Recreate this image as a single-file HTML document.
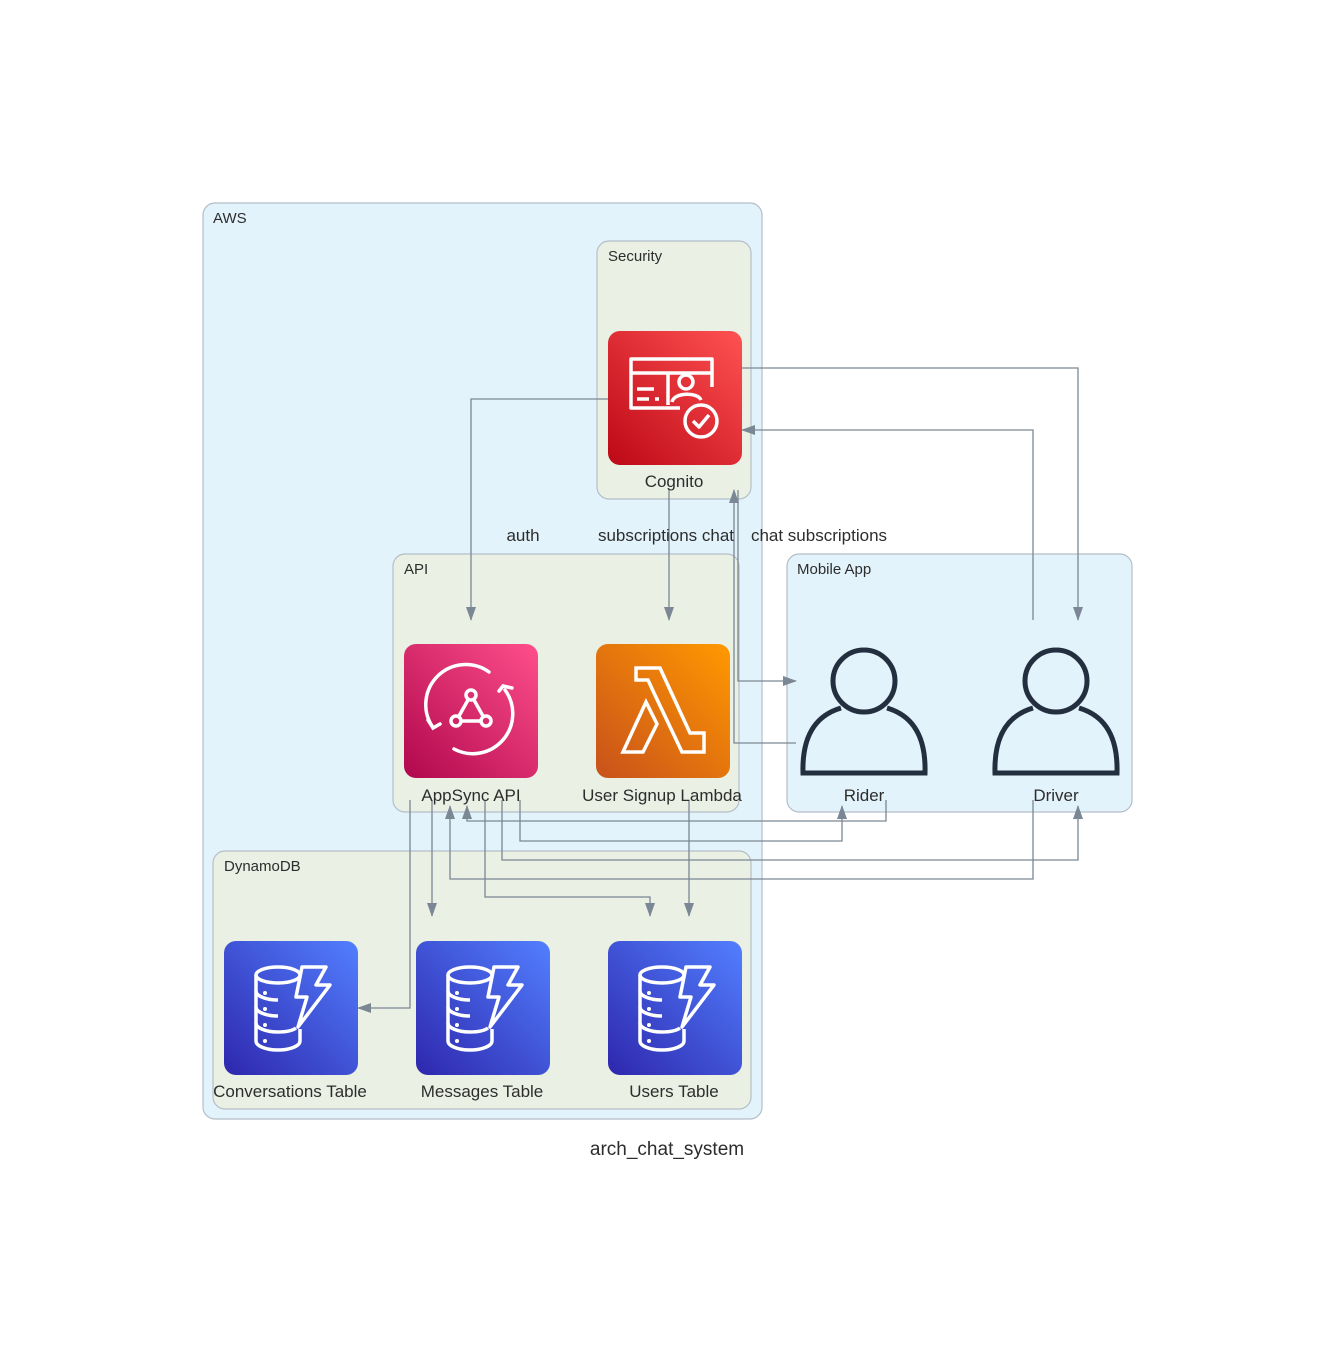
<!DOCTYPE html>
<html><head><meta charset="utf-8"><style>
html,body{margin:0;padding:0;background:#fff;}
svg{display:block;}
text{font-family:"Liberation Sans",sans-serif;fill:#2d2d2d;}
</style></head><body>
<svg width="1336" height="1355" viewBox="0 0 1336 1355" xmlns="http://www.w3.org/2000/svg">
<defs>
<linearGradient id="gr" x1="0" y1="1" x2="1" y2="0"><stop offset="0" stop-color="#bd0816"/><stop offset="1" stop-color="#ff5252"/></linearGradient>
<linearGradient id="gp" x1="0" y1="1" x2="1" y2="0"><stop offset="0" stop-color="#b0084d"/><stop offset="1" stop-color="#ff4f8b"/></linearGradient>
<linearGradient id="go" x1="0" y1="1" x2="1" y2="0"><stop offset="0" stop-color="#c8511b"/><stop offset="1" stop-color="#ff9900"/></linearGradient>
<linearGradient id="gb" x1="0" y1="1" x2="1" y2="0"><stop offset="0" stop-color="#2e27ad"/><stop offset="1" stop-color="#527fff"/></linearGradient>
<marker id="ar" markerWidth="14" markerHeight="12" refX="13" refY="6" orient="auto" markerUnits="userSpaceOnUse"><path d="M0,1 L14,6 L0,11 z" fill="#7b8794"/></marker>
<g id="ddb">
<rect width="134" height="134" rx="12" fill="url(#gb)"/>
<g fill="none" stroke="#fff" stroke-width="3.5" stroke-linejoin="round">
<ellipse cx="54" cy="34" rx="22" ry="8"/>
<path d="M32 34v66c0 5 10 9 22 9s22-4 22-9V88"/>
<path d="M32 50c0 5 10 9 22 9"/><path d="M32 66c0 5 10 9 22 9"/><path d="M32 82c0 5 10 9 22 9 8 0 14-1 18-4"/>
<path d="M78 26h24l-10 18h14L74 86l9-30H72z"/>
</g>
<g fill="#fff"><circle cx="41" cy="52" r="2"/><circle cx="41" cy="68" r="2"/><circle cx="41" cy="84" r="2"/><circle cx="41" cy="100" r="2"/></g>
</g>
<g id="person" fill="none" stroke="#232f3e" stroke-width="5">
<circle cx="0" cy="31" r="31"/>
<path d="M-23 58 C-50 66 -62 88 -61 123 H61 C62 88 50 66 23 58"/>
</g>
</defs>

<rect x="203" y="203" width="559" height="916" rx="12" fill="#e3f3fb" stroke="#b4bec8" stroke-width="1.2"/>
<text x="213" y="223" font-size="15">AWS</text>
<rect x="597" y="241" width="154" height="258" rx="12" fill="#eaf1e4" stroke="#b4bec8" stroke-width="1.2"/>
<text x="608" y="261" font-size="15">Security</text>
<rect x="393" y="554" width="346" height="258" rx="12" fill="#eaf1e4" stroke="#b4bec8" stroke-width="1.2"/>
<text x="404" y="574" font-size="15">API</text>
<rect x="213" y="851" width="538" height="258" rx="12" fill="#eaf1e4" stroke="#b4bec8" stroke-width="1.2"/>
<text x="224" y="871" font-size="15">DynamoDB</text>
<rect x="787" y="554" width="345" height="258" rx="12" fill="#e3f3fb" stroke="#b4bec8" stroke-width="1.2"/>
<text x="797" y="574" font-size="15">Mobile App</text>

<g fill="none" stroke="#7b8794" stroke-width="1.3" marker-end="url(#ar)">
<path d="M608 399 H471 V620"/>
<path d="M669 490 V620"/>
<path d="M742 368 H1078 V620"/>
<path d="M1033 620 V430 H742"/>
<path d="M738 490 V681 H796"/>
<path d="M796 743 H734 V490"/>
<path d="M410 800 V1008 H358"/>
<path d="M432 800 V916"/>
<path d="M485 800 V897 H650 V916"/>
<path d="M689 800 V916"/>
<path d="M886 800 V821 H467 V806"/>
<path d="M520 800 V841 H842 V806"/>
<path d="M502 800 V860 H1078 V806"/>
<path d="M1033 800 V879 H450 V806"/>
</g>

<rect x="608" y="331" width="134" height="134" rx="12" fill="url(#gr)"/>
<g fill="none" stroke="#fff" stroke-width="3.5" stroke-linejoin="round">
<path d="M680 408 H631 V359 H712 V387"/>
<path d="M631 373 H712"/>
<path d="M637 389 H654 M637 399 H649 M655 399 H659"/>
<circle cx="686" cy="382" r="7"/>
<path d="M672 402 C674 392 698 392 701 400"/>
<path d="M668 373 V405"/>
<circle cx="701" cy="421" r="16"/>
<path d="M693 421 L699 427 L709 415"/>
</g>
<text x="674" y="487" font-size="17" text-anchor="middle">Cognito</text>

<rect x="404" y="644" width="134" height="134" rx="12" fill="url(#gp)"/>
<g fill="none" stroke="#fff" stroke-width="3.5" stroke-linecap="round">
<path d="M489 672 A40 40 0 0 0 432 726"/>
<path d="M428 720 L433 728 L440 724"/>
<path d="M454 749 A40 40 0 0 0 505 690"/>
<path d="M499 691 L503 686 L512 688"/>
<circle cx="471" cy="695" r="5"/><circle cx="456" cy="721" r="5"/><circle cx="486" cy="721" r="5"/>
<path d="M468 700 L459 716 M474 700 L483 716 M461 721 H481"/>
</g>
<text x="471" y="801" font-size="17" text-anchor="middle">AppSync API</text>

<rect x="596" y="644" width="134" height="134" rx="12" fill="url(#go)"/>
<g fill="none" stroke="#fff" stroke-width="3.5" stroke-linejoin="miter">
<path d="M636 668 H660 L690 733 H704 V752 H682 L654 693 L648 680 H636 Z"/>
<path d="M646 702 L657 724 L643 752 H623 Z"/>
</g>
<text x="662" y="801" font-size="17" text-anchor="middle">User Signup Lambda</text>

<use href="#person" x="864" y="650"/>
<text x="864" y="801" font-size="17" text-anchor="middle">Rider</text>
<use href="#person" x="1056" y="650"/>
<text x="1056" y="801" font-size="17" text-anchor="middle">Driver</text>

<use href="#ddb" x="224" y="941"/>
<text x="290" y="1097" font-size="17" text-anchor="middle">Conversations Table</text>
<use href="#ddb" x="416" y="941"/>
<text x="482" y="1097" font-size="17" text-anchor="middle">Messages Table</text>
<use href="#ddb" x="608" y="941"/>
<text x="674" y="1097" font-size="17" text-anchor="middle">Users Table</text>

<text x="523" y="541" font-size="17" text-anchor="middle">auth</text>
<text x="666" y="541" font-size="17" text-anchor="middle">subscriptions chat</text>
<text x="819" y="541" font-size="17" text-anchor="middle">chat subscriptions</text>

<text x="667" y="1155" font-size="19" text-anchor="middle">arch_chat_system</text>
</svg>
</body></html>
